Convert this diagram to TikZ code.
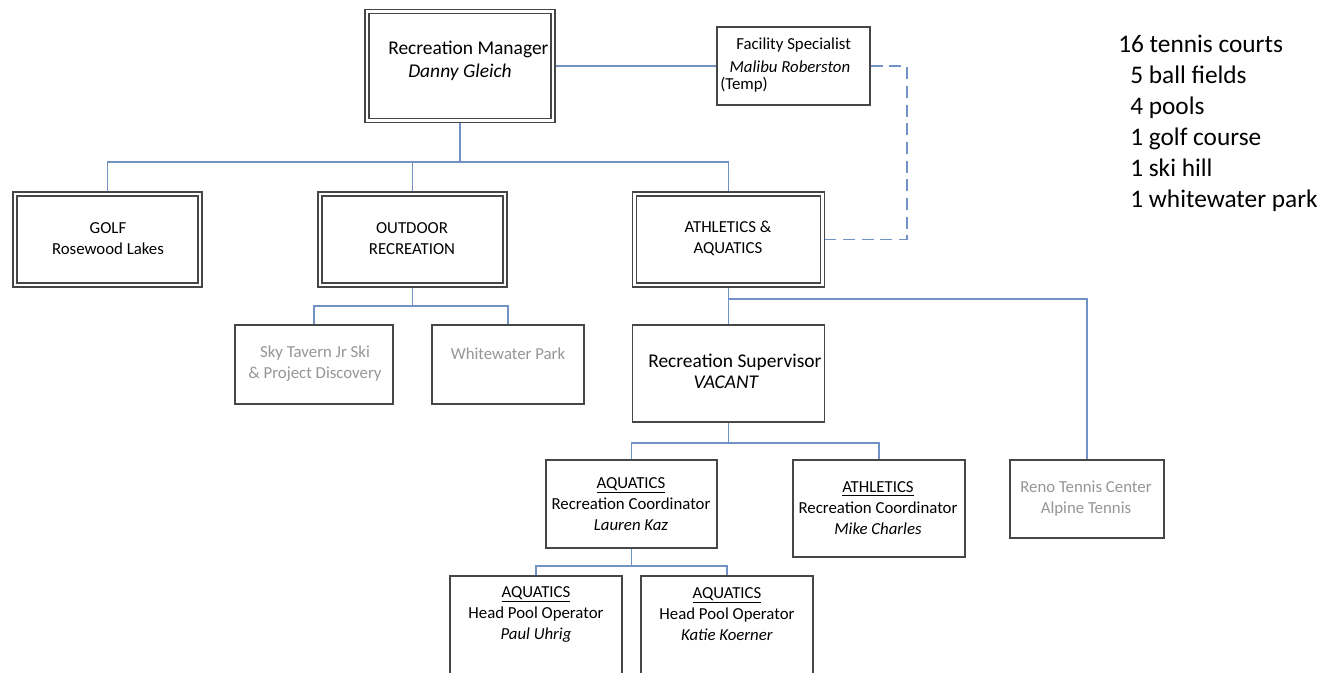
\documentclass[tikz,border=0pt]{standalone}
\usepackage{fontspec}
\setmainfont{Carlito}
\definecolor{linkblue}{RGB}{112,146,196}
\definecolor{boxgray}{RGB}{70,70,70}
\definecolor{dimtext}{RGB}{150,150,150}
\newcommand\boxfont{\fontsize{12.6}{15.75}\selectfont}
\newcommand\bigfont{\fontsize{14.6}{17.25}\selectfont}
\newcommand\listfont{\fontsize{19}{23.25}\selectfont}

\begin{document}
\begin{tikzpicture}[x=0.75pt, y=-0.75pt,
    wh/.style 2 args={minimum width=#1*0.75pt, minimum height=#2*0.75pt},
    dbox/.style={draw=boxgray, line width=1pt, double=white, double distance=2pt,
        fill=white, outer sep=2pt, inner sep=0pt},
    sbox/.style={draw=boxgray, line width=1.1pt, fill=white, inner sep=0pt},
    link/.style={draw=linkblue, line width=1.3pt},
    txt/.style={font=\boxfont, align=center, inner sep=0pt},
    dim/.style={txt, text=dimtext}]
    \useasboundingbox (0,0) rectangle (1322,672);

    % Boxes
    \node[dbox, wh={186}{109}] (mgr) at (460,66) {};
    \node[sbox, wh={153}{78}] (fac) at (793.5,66) {};
    \node[dbox, wh={185}{91}] (golf) at (107.5,239.5) {};
    \node[dbox, wh={185}{91}] (outdoor) at (412.5,239.5) {};
    \node[dbox, wh={188}{91}] (athaq) at (728.5,239.5) {};
    \node[sbox, wh={158}{79}] (sky) at (314,364.5) {};
    \node[sbox, wh={152}{79}] (white) at (508,364.5) {};
    \node[sbox, wh={192}{97}] (sup) at (728.5,373.5) {};
    \node[sbox, wh={171}{88}] (aqco) at (631.5,504) {};
    \node[sbox, wh={172}{97}] (athco) at (879,508.5) {};
    \node[sbox, wh={154}{78}] (reno) at (1087,499) {};
    \node[sbox, wh={172}{100}] (pool1) at (536,626) {};
    \node[sbox, wh={172}{100}] (pool2) at (727,626) {};

    % Box texts
    \node[font=\bigfont, align=left, anchor=west, inner sep=0pt] at (388,60.5)
        {Recreation Manager\\\hspace{15pt}\textit{Danny Gleich}};
    \node[font=\boxfont, align=left, anchor=west, inner sep=0pt] at (720,65)
        {\hspace{12pt}Facility Specialist\\[1.5pt]\hspace{7pt}\textit{Malibu Roberston}\\[-3pt](Temp)};
    \node[txt] at (108,238.5) {GOLF\\Rosewood Lakes};
    \node[txt] at (412,238.5) {OUTDOOR\\RECREATION};
    \node[txt] at (728,238.5) {ATHLETICS \&\\AQUATICS};
    \node[dim] at (315,364) {Sky Tavern Jr Ski\\\& Project Discovery};
    \node[dim] at (508,354) {Whitewater Park};
    \node[font=\bigfont, align=left, anchor=west, inner sep=0pt] at (648,371.5)
        {Recreation Supervisor\\[-1.5pt]\hspace{34pt}\textit{VACANT}};
    \node[txt] at (631,504) {\underline{AQUATICS}\\Recreation Coordinator\\\textit{Lauren Kaz}};
    \node[txt] at (878,508.5) {\underline{ATHLETICS}\\Recreation Coordinator\\\textit{Mike Charles}};
    \node[dim] at (1086,499) {Reno Tennis Center\\Alpine Tennis};
    \node[txt] at (536,614) {\underline{AQUATICS}\\Head Pool Operator\\\textit{Paul Uhrig}};
    \node[txt] at (727,614) {\underline{AQUATICS}\\Head Pool Operator\\\textit{Katie Koerner}};

    % Facility list
    \node[font=\listfont, align=left, anchor=west, inner sep=0pt] (facts) at (1118,123.5)
        {16 tennis courts\\\hspace{9pt}5 ball fields\\\hspace{9pt}4 pools\\\hspace{9pt}1 golf course\\
         \hspace{9pt}1 ski hill\\\hspace{9pt}1 whitewater park};

    % Connectors
    \coordinate (b1) at (460,162);
    \coordinate (b2) at (412.5,306);
    \coordinate (b3) at (728.5,299);
    \coordinate (b4) at (728.5,443);
    \coordinate (b5) at (631.5,566);

    \draw[link] (mgr.east) -- (fac.west);
    \draw[link, dash pattern=on 9pt off 5pt] (fac.east) -- ++(36,0) |- (athaq.east);

    \draw[link] (mgr.south) -- (b1);
    \draw[link] (golf.north) |- (b1) -| (athaq.north);
    \draw[link] (b1) -| (outdoor.north);

    \draw[link] (outdoor.south) -- (b2);
    \draw[link] (sky.north) |- (b2) -| (white.north);

    \draw[link] (athaq.south) -- (sup.north);
    \draw[link] (b3) -| (reno.north);

    \draw[link] (sup.south) -- (b4);
    \draw[link] (aqco.north) |- (b4) -| (athco.north);

    \draw[link] (aqco.south) -- (b5);
    \draw[link] (pool1.north) |- (b5) -| (pool2.north);
\end{tikzpicture}
\end{document}
